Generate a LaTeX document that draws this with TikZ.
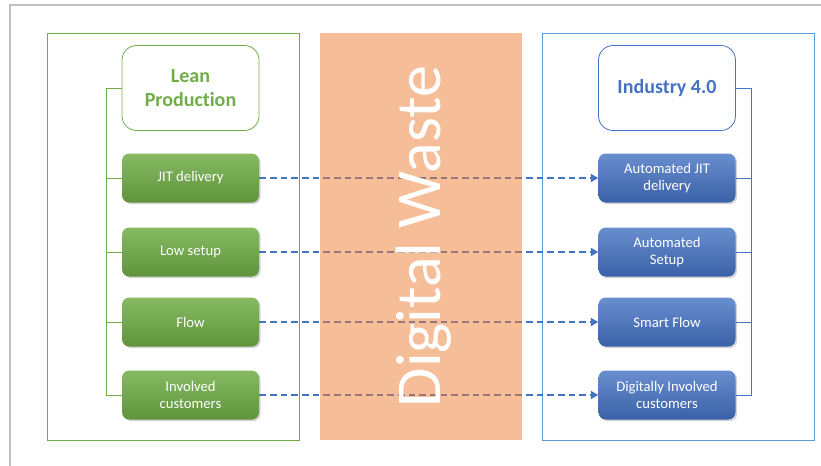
\documentclass[tikz,border=0pt]{standalone}
\usepackage{fontspec}
\setmainfont{Carlito}[Ligatures=NoCommon]
\usetikzlibrary{positioning,shadows,arrows.meta}
\definecolor{leangreen}{HTML}{70AD47}
\definecolor{indblue}{HTML}{4472C4}
\definecolor{frameblue}{HTML}{5B9BD5}
\definecolor{wasteorange}{HTML}{ED7D31}

\tikzset{
  titlebox/.style={draw=#1, fill=white, rounded corners=11pt, line width=0.6pt,
    minimum width=102.75pt, minimum height=63.75pt, align=center,
    text=#1, font=\fontsize{15}{18}\selectfont\bfseries},
  leanbox/.style={rounded corners=5.5pt, top color=leangreen!85!white, bottom color=leangreen!85!black,
    draw=none, drop shadow={shadow xshift=1.2pt, shadow yshift=-1.2pt, opacity=0.35},
    minimum width=102.75pt, minimum height=36.75pt, inner sep=1pt, align=center,
    text=white, font=\fontsize{11}{12.5}\selectfont},
  indbox/.style={leanbox, top color=indblue!80!white, bottom color=indblue!85!black},
  flowarrow/.style={indblue, line width=1.8pt, dash pattern=on 5pt off 3pt,
    -{Triangle[length=5.5pt,width=6pt]}},
}

\begin{document}
\begin{tikzpicture}[x=0.75pt,y=-0.75pt]
  \useasboundingbox (0,0) rectangle (821,465);
  \clip (0,0) rectangle (821,465);

  % frames
  \draw[gray!50, line width=1.5pt] (10,5) rectangle (900,520);
  \draw[leangreen, line width=0.6pt] (47,33) rectangle (299,440);
  \draw[frameblue, line width=0.6pt] (542,33) rectangle (814,440);

  % lean side
  \node[titlebox=leangreen] (lean) at (190.5,88) {Lean\\Production};
  \node[leanbox] (jit)   at (190.5,178) {JIT delivery};
  \node[leanbox] (setup) at (190.5,252) {Low setup};
  \node[leanbox] (flow)  at (190.5,322) {Flow};
  \node[leanbox] (cust)  at (190.5,395) {Involved\\customers};

  % industry side
  \node[titlebox=indblue] (ind) at (667,88) {Industry 4.0};
  \node[indbox] (ajit)   at (667,178) {Automated JIT\\delivery};
  \node[indbox] (asetup) at (667,252) {Automated\\Setup};
  \node[indbox] (sflow)  at (667,322) {Smart Flow};
  \node[indbox] (dcust)  at (667,395) {Digitally Involved\\customers};

  \foreach \n in {jit,setup,flow,cust}
    \draw[leangreen, line width=0.6pt] (lean.west) -- ++(-15,0) |- (\n.west);
  \foreach \n in {ajit,asetup,sflow,dcust}
    \draw[indblue, line width=0.6pt] (ind.east) -- ++(15,0) |- (\n.east);

  % mappings
  \draw[flowarrow] (jit) -- (ajit);
  \draw[flowarrow] (setup) -- (asetup);
  \draw[flowarrow] (flow) -- (sflow);
  \draw[flowarrow] (cust) -- (dcust);

  % waste band
  \node[fill=wasteorange, fill opacity=0.5, draw=none, inner sep=0pt,
    minimum width=151.5pt, minimum height=305.25pt] (waste) at (421,236.5) {};
  \node[rotate=90, text=white, font=\fontsize{48}{48}\selectfont] (wastetext) at ([xshift=2pt]waste.center) {Digital Waste};
\end{tikzpicture}
\end{document}
